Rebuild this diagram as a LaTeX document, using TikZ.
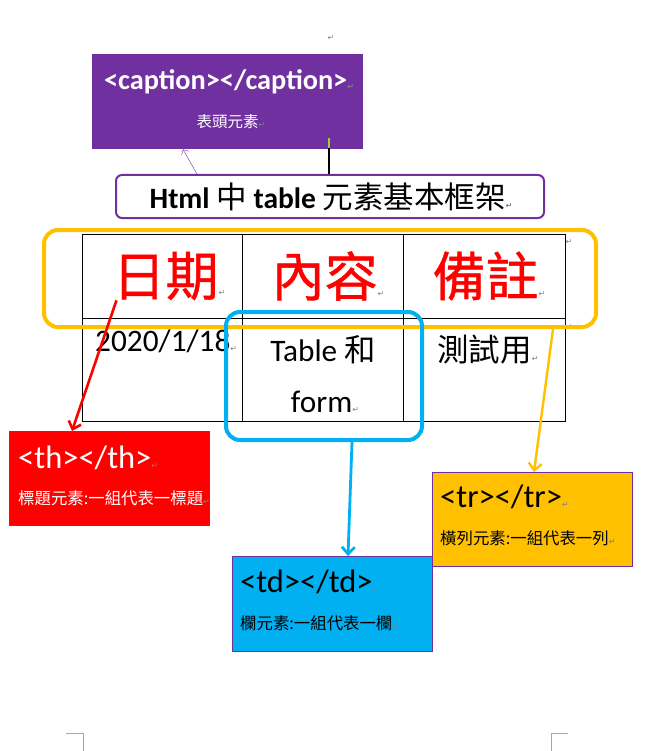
\documentclass[tikz,border=0pt]{standalone}
\usepackage{fontspec}
\usetikzlibrary{arrows.meta}
\setmainfont{Carlito}
\newfontfamily\cjk{Noto Sans CJK TC}
\newfontfamily\cjkhead[FakeBold=0.8]{Noto Sans CJK TC}
\newfontfamily\sym{DejaVu Sans}
\definecolor{capurple}{HTML}{7030A0}
\definecolor{trorange}{HTML}{FFC000}
\definecolor{tdblue}{HTML}{00B0F0}
\definecolor{cursorgreen}{HTML}{92D050}
\newcommand{\ret}{{\sym\fontsize{8}{8}\selectfont\textcolor{gray}{↵}}}

\begin{document}
\begin{tikzpicture}[x=1pt,y=-1pt,
	>={Straight Barb[length=7pt,width=13pt]},
	tagbox/.style={draw=capurple, line width=0.8pt, anchor=north west,
		minimum width=200pt, minimum height=94pt, inner sep=0pt},
	tagtext/.style={anchor=west, inner sep=0pt, font=\fontsize{32.5}{32.5}\selectfont},
	desctext/.style={anchor=west, inner sep=0pt, font=\cjk\fontsize{16.4}{16.4}\selectfont},
	head/.style={red, inner sep=0pt, font=\cjkhead\fontsize{53}{53}\selectfont},
	cell/.style={inner sep=0pt, font=\fontsize{31.3}{31.3}\selectfont},
	ring/.style={rounded corners=14pt, line width=4pt, anchor=north west, inner sep=0pt}]
	\useasboundingbox (0,0) rectangle (650,751);

	% caption part
	\node[fill=capurple, anchor=north west, minimum width=271pt, minimum height=95pt,
		inner sep=0pt] (capbox) at (92,54) {};
	\node[white, inner sep=0pt, font=\bfseries\fontsize{28.3}{28.3}\selectfont]
		(captag) at (229,82) {<caption></caption>\ret};
	\node[white, inner sep=0pt, font=\cjk\fontsize{15.5}{15.5}\selectfont]
		(capdesc) at (231,122) {表頭元素\ret};
	\node[inner sep=0pt] (ret1) at (331,38) {\ret};
	\draw[cursorgreen, line width=1.5pt] (329,138) -- (329,148);
	\draw[black, line width=1.5pt] (329,148) -- (329,174);

	% title
	\node[draw=capurple, line width=2pt, rounded corners=6pt, fill=white, anchor=north west,
		minimum width=428pt, minimum height=43pt, inner sep=0pt] (titlebox) at (115,174) {};
	\node[inner sep=0pt, font=\bfseries\fontsize{29.5}{29.5}\selectfont]
		(title) at (331,197) {Html {\cjk\mdseries\fontsize{30.5}{30.5}\selectfont 中} table
		{\cjk\mdseries\fontsize{30.5}{30.5}\selectfont 元素基本框架}\ret};
	\draw[capurple, thin, -{Straight Barb[length=4pt,width=8pt]}]
		([xshift=82pt]titlebox.north west) -- ([xshift=91pt]capbox.south west);

	% table
	\draw (82,234) rectangle (565,421);
	\draw (82,318) -- (565,318);
	\draw (242,234) -- (242,421);
	\draw (403,234) -- (403,421);
	\node[head] (hdate) at (169,276) {日期\ret};
	\node[head] (hcont) at (328,276) {內容\ret};
	\node[head] (hnote) at (489,276) {備註\ret};
	\node[inner sep=0pt] (ret2) at (569,242) {\ret};
	\node[inner sep=0pt] (ret3) at (569,327) {\ret};
	\node[cell, anchor=west] (cdate) at (95,341) {2020/1/18\ret};
	\node[cell] (ccont1) at (323,350) {Table {\cjk 和}};
	\node[cell] (ccont2) at (325,402) {form\ret};
	\node[cell, font=\cjk\fontsize{31.5}{31.5}\selectfont] (cnote) at (488,350) {測試用\ret};

	% rings
	\node[draw=trorange, ring, minimum width=552pt, minimum height=97pt] (trring) at (42,228) {};
	\node[draw=tdblue, ring, minimum width=196pt, minimum height=128pt] (tdring) at (224,310) {};

	% tag boxes
	\node[tagbox, fill=red] (thbox) at (9,431) {};
	\node[tagtext, white] (thtag) at (18,458) {<th></th>\ret};
	\node[desctext, white] (thdesc) at (18,498) {標題元素:一組代表一標題\ret};

	\node[tagbox, fill=tdblue, minimum height=95pt] (tdbox) at (232,556) {};
	\node[tagtext] (tdtag) at (240,582) {<td></td>\ret};
	\node[desctext] (tddesc) at (240,623) {欄元素:一組代表一欄\ret};

	\node[tagbox, fill=trorange] (trbox) at (432,472) {};
	\node[tagtext] (trtag) at (440,497) {<tr></tr>\ret};
	\node[desctext] (trdesc) at (440,538) {橫列元素:一組代表一列\ret};

	% arrows
	\draw[red, line width=2.6pt, ->] ([shift={(4,0)}]hdate.south west) -- ([xshift=63pt]thbox.north west);
	\draw[tdblue, line width=2.8pt, ->] ([xshift=128pt]tdring.south west) -- ([xshift=116pt]tdbox.north west);
	\draw[trorange, line width=2.4pt, ->] ([xshift=511pt]trring.south west) -- ([xshift=102pt]trbox.north west);

	% page corners
	\draw[gray!70] (66,733) -- (83,733) -- (83,751);
	\draw[gray!70] (568,733) -- (551,733) -- (551,751);
\end{tikzpicture}
\end{document}
